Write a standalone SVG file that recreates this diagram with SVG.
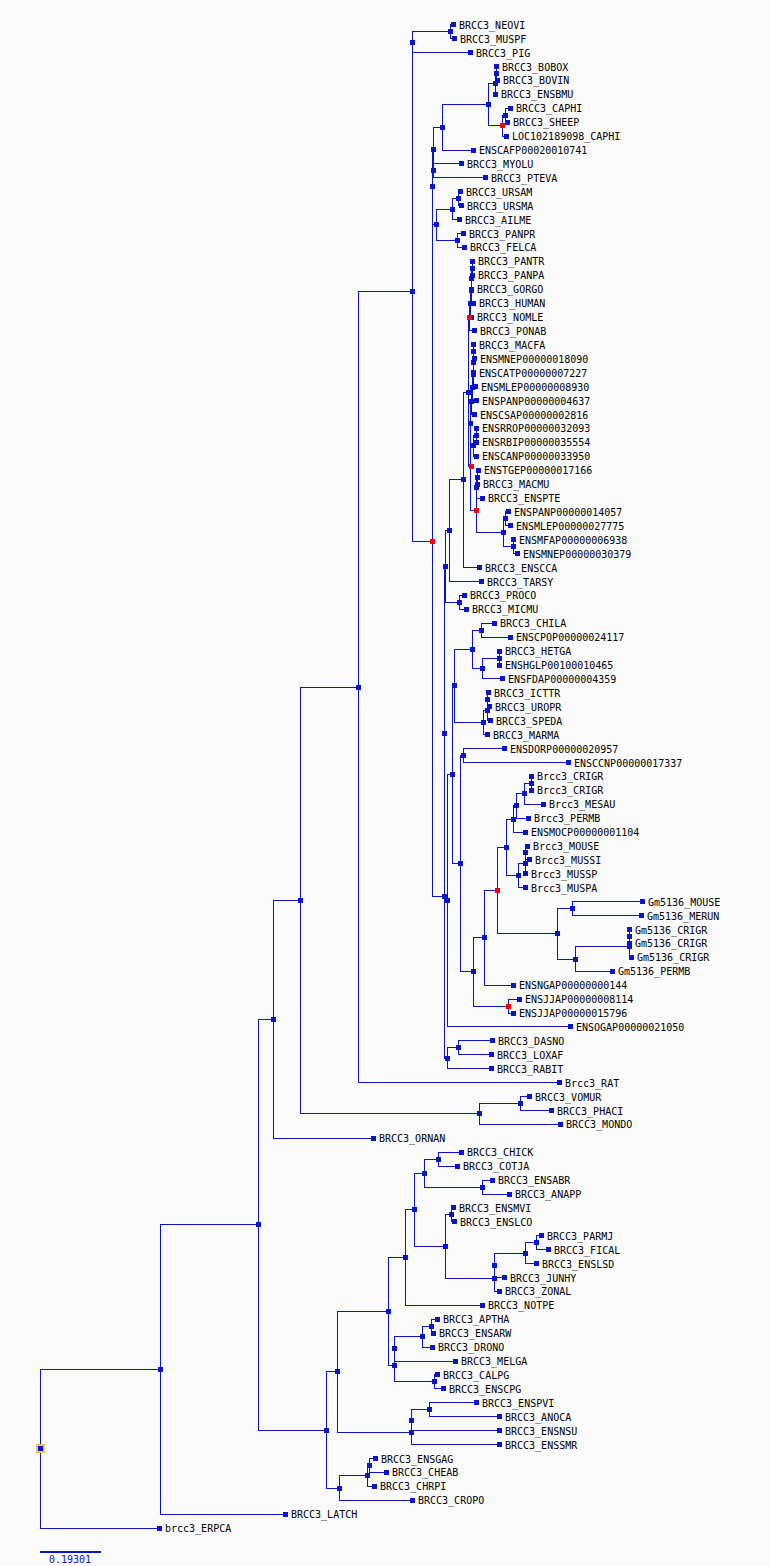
<svg xmlns="http://www.w3.org/2000/svg" xmlns:xlink="http://www.w3.org/1999/xlink" width="770" height="1566" viewBox="0 0 770 1566">
<style>
.bg{fill:#fafafa}
.e path{fill:none;stroke:#0a14c8;stroke-width:1;shape-rendering:crispEdges}
use{fill:#0a14c8;shape-rendering:crispEdges}
use.dup{fill:#ff0000}
text{font-family:"DejaVu Sans Mono","Liberation Mono",monospace;font-size:10px;fill:#000}
text.sc{fill:#0a14c8}
</style>
<defs><rect id="s" x="-2.5" y="-2.5" width="5" height="5"/></defs>
<rect class="bg" x="0" y="0" width="770" height="1566"/>
<g class="e" id="connectors">
<path d="M160 1369.4H40V1528.1H159"/>
<path d="M258 1224.7H160V1514.1H285"/>
<path d="M273 1019.45H258V1430H326"/>
<path d="M300 900.6H273V1138.3H373"/>
<path d="M358 687.2H300V1113.95H479"/>
<path d="M412 291.8H358V1082.6H559"/>
<path d="M412 42.1V541.5H432"/>
<path d="M450 31.65H412V52.5H470"/>
<path d="M453 24.7H450V38.6H454"/>
<path d="M432 186.95V896H444"/>
<path d="M433 149.1H432V224.8H436"/>
<path d="M442 127.4H433V170.85"/>
<path d="M488 104.75H442V150H473"/>
<path d="M495 83.9H488V125.6H502"/>
<path d="M496 73.45H495V94.3"/>
<path d="M496 66.5V80.4H497"/>
<path d="M505 115.15H502V136.1H506"/>
<path d="M510 108.2H505V122.1H507"/>
<path d="M461 163.9H433V177.8H485"/>
<path d="M452 209.15H436V240.45H457"/>
<path d="M458 198.7H452V219.6H459"/>
<path d="M460 191.7H458V205.7H461"/>
<path d="M463 233.5H457V247.4H464"/>
<path d="M444 733.7V1058.3H447"/>
<path d="M445 566.5H444V900.85H447"/>
<path d="M449 530.7H445V602.35H459"/>
<path d="M463 479.85H449V581.5H481"/>
<path d="M468 392.1H463V567.6H479"/>
<path d="M469 317.4H468V466.8H471"/>
<path d="M470 303.95H469V330.9H474"/>
<path d="M471 290.9H470V317H471"/>
<path d="M471 278.75V303.1H473"/>
<path d="M472 268.3H471V289.2"/>
<path d="M472 261.3V275.3"/>
<path d="M470 423.4V510.2H476"/>
<path d="M471 401H470V445.8H473"/>
<path d="M472 387.5H471V414.5H474"/>
<path d="M473 374.45H472V400.5H476"/>
<path d="M473 362.3V386.6H475"/>
<path d="M473 351.85V372.7"/>
<path d="M473 344.9V358.8H474"/>
<path d="M476 435.35H473V456.2H476"/>
<path d="M476 428.4V442.3"/>
<path d="M476 487.55V532.8H503"/>
<path d="M477 477.1H476V498H482"/>
<path d="M478 470.1H477V484.1"/>
<path d="M505 518.85H503V546.7H513"/>
<path d="M508 511.9H505V525.8H510"/>
<path d="M513 539.7V553.7H517"/>
<path d="M464 595.4H459V609.3H466"/>
<path d="M452 774.8H447V1026.9H570"/>
<path d="M454 685.9H452V863.7H460"/>
<path d="M472 649.4H454V722.45H483"/>
<path d="M481 630.25H472V668.5H482"/>
<path d="M494 623.3H481V637.2H510"/>
<path d="M499 658.05H482V678.9H502"/>
<path d="M499 651.1V665"/>
<path d="M487 710.3H483V734.6H487"/>
<path d="M487 699.85V720.7H490"/>
<path d="M488 692.9H487V706.8H489"/>
<path d="M463 755.5H460V971.95H473"/>
<path d="M504 748.5H463V762.5H568"/>
<path d="M484 937.9H473V1006.05H508"/>
<path d="M497 890.6H484V985.2H513"/>
<path d="M506 847.3H497V933.9H557"/>
<path d="M513 819H506V875.55H518"/>
<path d="M516 805.95H513V832.1H525"/>
<path d="M524 793.8H516V818.1H528"/>
<path d="M531 783.35H524V804.2H543"/>
<path d="M531 776.4V790.3"/>
<path d="M525 863.4H518V887.7H525"/>
<path d="M525 852.95V873.8"/>
<path d="M527 846H525V859.9H529"/>
<path d="M572 908.65H557V959.1H575"/>
<path d="M642 901.7H572V915.6H641"/>
<path d="M629 946.9H575V971.3H612"/>
<path d="M629 936.45V957.3H631"/>
<path d="M629 929.5V943.4"/>
<path d="M519 999.1H508V1013H513"/>
<path d="M458 1047.85H447V1068.7H491"/>
<path d="M492 1040.9H458V1054.8H491"/>
<path d="M520 1103.5H479V1124.4H560"/>
<path d="M529 1096.5H520V1110.5H551"/>
<path d="M337 1371.9H326V1488.05H339"/>
<path d="M388 1311.5H337V1432.35H411"/>
<path d="M405 1257.6H388V1365.4H394"/>
<path d="M414 1209.85H405V1305.3H482"/>
<path d="M424 1173.1H414V1246.6H445"/>
<path d="M438 1159.15H424V1187.05H482"/>
<path d="M461 1152.2H438V1166.1H457"/>
<path d="M492 1180.1H482V1194H509"/>
<path d="M451 1214.85H445V1278.35H494"/>
<path d="M453 1207.9H451V1221.8H454"/>
<path d="M494 1265.3V1291.4H499"/>
<path d="M525 1253.15H494V1277.5H504"/>
<path d="M536 1242.7H525V1263.6H536"/>
<path d="M541 1235.7H536V1249.7H548"/>
<path d="M394 1348.85V1381.9H434"/>
<path d="M422 1336.7H394V1361H455"/>
<path d="M431 1326.25H422V1347.1H432"/>
<path d="M437 1319.3H431V1333.2H433"/>
<path d="M437 1374.9H434V1388.9H443"/>
<path d="M411 1420.2V1444.5H499"/>
<path d="M429 1409.75H411V1430.6H499"/>
<path d="M476 1402.8H429V1416.7H499"/>
<path d="M367 1475.9H339V1500.2H412"/>
<path d="M369 1465.45H367V1486.3H374"/>
<path d="M375 1458.5H369V1472.4H386"/>
</g>
<g id="leaves">
<g id="leaf-001"><use href="#s" x="453" y="24.7"/><text x="459" y="28.7">BRCC3_NEOVI</text></g>
<g id="leaf-002"><use href="#s" x="454" y="38.6"/><text x="460" y="42.6">BRCC3_MUSPF</text></g>
<g id="leaf-003"><use href="#s" x="470" y="52.5"/><text x="476" y="56.5">BRCC3_PIG</text></g>
<g id="leaf-004"><use href="#s" x="496" y="66.5"/><text x="502" y="70.5">BRCC3_BOBOX</text></g>
<g id="leaf-005"><use href="#s" x="497" y="80.4"/><text x="503" y="84.4">BRCC3_BOVIN</text></g>
<g id="leaf-006"><use href="#s" x="495" y="94.3"/><text x="501" y="98.3">BRCC3_ENSBMU</text></g>
<g id="leaf-007"><use href="#s" x="510" y="108.2"/><text x="516" y="112.2">BRCC3_CAPHI</text></g>
<g id="leaf-008"><use href="#s" x="507" y="122.1"/><text x="513" y="126.1">BRCC3_SHEEP</text></g>
<g id="leaf-009"><use href="#s" x="506" y="136.1"/><text x="512" y="140.1">LOC102189098_CAPHI</text></g>
<g id="leaf-010"><use href="#s" x="473" y="150"/><text x="479" y="154">ENSCAFP00020010741</text></g>
<g id="leaf-011"><use href="#s" x="461" y="163.9"/><text x="467" y="167.9">BRCC3_MYOLU</text></g>
<g id="leaf-012"><use href="#s" x="485" y="177.8"/><text x="491" y="181.8">BRCC3_PTEVA</text></g>
<g id="leaf-013"><use href="#s" x="460" y="191.7"/><text x="466" y="195.7">BRCC3_URSAM</text></g>
<g id="leaf-014"><use href="#s" x="461" y="205.7"/><text x="467" y="209.7">BRCC3_URSMA</text></g>
<g id="leaf-015"><use href="#s" x="459" y="219.6"/><text x="465" y="223.6">BRCC3_AILME</text></g>
<g id="leaf-016"><use href="#s" x="463" y="233.5"/><text x="469" y="237.5">BRCC3_PANPR</text></g>
<g id="leaf-017"><use href="#s" x="464" y="247.4"/><text x="470" y="251.4">BRCC3_FELCA</text></g>
<g id="leaf-018"><use href="#s" x="472" y="261.3"/><text x="478" y="265.3">BRCC3_PANTR</text></g>
<g id="leaf-019"><use href="#s" x="472" y="275.3"/><text x="478" y="279.3">BRCC3_PANPA</text></g>
<g id="leaf-020"><use href="#s" x="471" y="289.2"/><text x="477" y="293.2">BRCC3_GORGO</text></g>
<g id="leaf-021"><use href="#s" x="473" y="303.1"/><text x="479" y="307.1">BRCC3_HUMAN</text></g>
<g id="leaf-022"><use href="#s" x="471" y="317"/><text x="477" y="321">BRCC3_NOMLE</text></g>
<g id="leaf-023"><use href="#s" x="474" y="330.9"/><text x="480" y="334.9">BRCC3_PONAB</text></g>
<g id="leaf-024"><use href="#s" x="473" y="344.9"/><text x="479" y="348.9">BRCC3_MACFA</text></g>
<g id="leaf-025"><use href="#s" x="474" y="358.8"/><text x="480" y="362.8">ENSMNEP00000018090</text></g>
<g id="leaf-026"><use href="#s" x="473" y="372.7"/><text x="479" y="376.7">ENSCATP00000007227</text></g>
<g id="leaf-027"><use href="#s" x="475" y="386.6"/><text x="481" y="390.6">ENSMLEP00000008930</text></g>
<g id="leaf-028"><use href="#s" x="476" y="400.5"/><text x="482" y="404.5">ENSPANP00000004637</text></g>
<g id="leaf-029"><use href="#s" x="474" y="414.5"/><text x="480" y="418.5">ENSCSAP00000002816</text></g>
<g id="leaf-030"><use href="#s" x="476" y="428.4"/><text x="482" y="432.4">ENSRROP00000032093</text></g>
<g id="leaf-031"><use href="#s" x="476" y="442.3"/><text x="482" y="446.3">ENSRBIP00000035554</text></g>
<g id="leaf-032"><use href="#s" x="476" y="456.2"/><text x="482" y="460.2">ENSCANP00000033950</text></g>
<g id="leaf-033"><use href="#s" x="478" y="470.1"/><text x="484" y="474.1">ENSTGEP00000017166</text></g>
<g id="leaf-034"><use href="#s" x="477" y="484.1"/><text x="483" y="488.1">BRCC3_MACMU</text></g>
<g id="leaf-035"><use href="#s" x="482" y="498"/><text x="488" y="502">BRCC3_ENSPTE</text></g>
<g id="leaf-036"><use href="#s" x="508" y="511.9"/><text x="514" y="515.9">ENSPANP00000014057</text></g>
<g id="leaf-037"><use href="#s" x="510" y="525.8"/><text x="516" y="529.8">ENSMLEP00000027775</text></g>
<g id="leaf-038"><use href="#s" x="513" y="539.7"/><text x="519" y="543.7">ENSMFAP00000006938</text></g>
<g id="leaf-039"><use href="#s" x="517" y="553.7"/><text x="523" y="557.7">ENSMNEP00000030379</text></g>
<g id="leaf-040"><use href="#s" x="479" y="567.6"/><text x="485" y="571.6">BRCC3_ENSCCA</text></g>
<g id="leaf-041"><use href="#s" x="481" y="581.5"/><text x="487" y="585.5">BRCC3_TARSY</text></g>
<g id="leaf-042"><use href="#s" x="464" y="595.4"/><text x="470" y="599.4">BRCC3_PROCO</text></g>
<g id="leaf-043"><use href="#s" x="466" y="609.3"/><text x="472" y="613.3">BRCC3_MICMU</text></g>
<g id="leaf-044"><use href="#s" x="494" y="623.3"/><text x="500" y="627.3">BRCC3_CHILA</text></g>
<g id="leaf-045"><use href="#s" x="510" y="637.2"/><text x="516" y="641.2">ENSCPOP00000024117</text></g>
<g id="leaf-046"><use href="#s" x="499" y="651.1"/><text x="505" y="655.1">BRCC3_HETGA</text></g>
<g id="leaf-047"><use href="#s" x="499" y="665"/><text x="505" y="669">ENSHGLP00100010465</text></g>
<g id="leaf-048"><use href="#s" x="502" y="678.9"/><text x="508" y="682.9">ENSFDAP00000004359</text></g>
<g id="leaf-049"><use href="#s" x="488" y="692.9"/><text x="494" y="696.9">BRCC3_ICTTR</text></g>
<g id="leaf-050"><use href="#s" x="489" y="706.8"/><text x="495" y="710.8">BRCC3_UROPR</text></g>
<g id="leaf-051"><use href="#s" x="490" y="720.7"/><text x="496" y="724.7">BRCC3_SPEDA</text></g>
<g id="leaf-052"><use href="#s" x="487" y="734.6"/><text x="493" y="738.6">BRCC3_MARMA</text></g>
<g id="leaf-053"><use href="#s" x="504" y="748.5"/><text x="510" y="752.5">ENSDORP00000020957</text></g>
<g id="leaf-054"><use href="#s" x="568" y="762.5"/><text x="574" y="766.5">ENSCCNP00000017337</text></g>
<g id="leaf-055"><use href="#s" x="531" y="776.4"/><text x="537" y="780.4">Brcc3_CRIGR</text></g>
<g id="leaf-056"><use href="#s" x="531" y="790.3"/><text x="537" y="794.3">Brcc3_CRIGR</text></g>
<g id="leaf-057"><use href="#s" x="543" y="804.2"/><text x="549" y="808.2">Brcc3_MESAU</text></g>
<g id="leaf-058"><use href="#s" x="528" y="818.1"/><text x="534" y="822.1">Brcc3_PERMB</text></g>
<g id="leaf-059"><use href="#s" x="525" y="832.1"/><text x="531" y="836.1">ENSMOCP00000001104</text></g>
<g id="leaf-060"><use href="#s" x="527" y="846"/><text x="533" y="850">Brcc3_MOUSE</text></g>
<g id="leaf-061"><use href="#s" x="529" y="859.9"/><text x="535" y="863.9">Brcc3_MUSSI</text></g>
<g id="leaf-062"><use href="#s" x="525" y="873.8"/><text x="531" y="877.8">Brcc3_MUSSP</text></g>
<g id="leaf-063"><use href="#s" x="525" y="887.7"/><text x="531" y="891.7">Brcc3_MUSPA</text></g>
<g id="leaf-064"><use href="#s" x="642" y="901.7"/><text x="648" y="905.7">Gm5136_MOUSE</text></g>
<g id="leaf-065"><use href="#s" x="641" y="915.6"/><text x="647" y="919.6">Gm5136_MERUN</text></g>
<g id="leaf-066"><use href="#s" x="629" y="929.5"/><text x="635" y="933.5">Gm5136_CRIGR</text></g>
<g id="leaf-067"><use href="#s" x="629" y="943.4"/><text x="635" y="947.4">Gm5136_CRIGR</text></g>
<g id="leaf-068"><use href="#s" x="631" y="957.3"/><text x="637" y="961.3">Gm5136_CRIGR</text></g>
<g id="leaf-069"><use href="#s" x="612" y="971.3"/><text x="618" y="975.3">Gm5136_PERMB</text></g>
<g id="leaf-070"><use href="#s" x="513" y="985.2"/><text x="519" y="989.2">ENSNGAP00000000144</text></g>
<g id="leaf-071"><use href="#s" x="519" y="999.1"/><text x="525" y="1003.1">ENSJJAP00000008114</text></g>
<g id="leaf-072"><use href="#s" x="513" y="1013"/><text x="519" y="1017">ENSJJAP00000015796</text></g>
<g id="leaf-073"><use href="#s" x="570" y="1026.9"/><text x="576" y="1030.9">ENSOGAP00000021050</text></g>
<g id="leaf-074"><use href="#s" x="492" y="1040.9"/><text x="498" y="1044.9">BRCC3_DASNO</text></g>
<g id="leaf-075"><use href="#s" x="491" y="1054.8"/><text x="497" y="1058.8">BRCC3_LOXAF</text></g>
<g id="leaf-076"><use href="#s" x="491" y="1068.7"/><text x="497" y="1072.7">BRCC3_RABIT</text></g>
<g id="leaf-077"><use href="#s" x="559" y="1082.6"/><text x="565" y="1086.6">Brcc3_RAT</text></g>
<g id="leaf-078"><use href="#s" x="529" y="1096.5"/><text x="535" y="1100.5">BRCC3_VOMUR</text></g>
<g id="leaf-079"><use href="#s" x="551" y="1110.5"/><text x="557" y="1114.5">BRCC3_PHACI</text></g>
<g id="leaf-080"><use href="#s" x="560" y="1124.4"/><text x="566" y="1128.4">BRCC3_MONDO</text></g>
<g id="leaf-081"><use href="#s" x="373" y="1138.3"/><text x="379" y="1142.3">BRCC3_ORNAN</text></g>
<g id="leaf-082"><use href="#s" x="461" y="1152.2"/><text x="467" y="1156.2">BRCC3_CHICK</text></g>
<g id="leaf-083"><use href="#s" x="457" y="1166.1"/><text x="463" y="1170.1">BRCC3_COTJA</text></g>
<g id="leaf-084"><use href="#s" x="492" y="1180.1"/><text x="498" y="1184.1">BRCC3_ENSABR</text></g>
<g id="leaf-085"><use href="#s" x="509" y="1194"/><text x="515" y="1198">BRCC3_ANAPP</text></g>
<g id="leaf-086"><use href="#s" x="453" y="1207.9"/><text x="459" y="1211.9">BRCC3_ENSMVI</text></g>
<g id="leaf-087"><use href="#s" x="454" y="1221.8"/><text x="460" y="1225.8">BRCC3_ENSLCO</text></g>
<g id="leaf-088"><use href="#s" x="541" y="1235.7"/><text x="547" y="1239.7">BRCC3_PARMJ</text></g>
<g id="leaf-089"><use href="#s" x="548" y="1249.7"/><text x="554" y="1253.7">BRCC3_FICAL</text></g>
<g id="leaf-090"><use href="#s" x="536" y="1263.6"/><text x="542" y="1267.6">BRCC3_ENSLSD</text></g>
<g id="leaf-091"><use href="#s" x="504" y="1277.5"/><text x="510" y="1281.5">BRCC3_JUNHY</text></g>
<g id="leaf-092"><use href="#s" x="499" y="1291.4"/><text x="505" y="1295.4">BRCC3_ZONAL</text></g>
<g id="leaf-093"><use href="#s" x="482" y="1305.3"/><text x="488" y="1309.3">BRCC3_NOTPE</text></g>
<g id="leaf-094"><use href="#s" x="437" y="1319.3"/><text x="443" y="1323.3">BRCC3_APTHA</text></g>
<g id="leaf-095"><use href="#s" x="433" y="1333.2"/><text x="439" y="1337.2">BRCC3_ENSARW</text></g>
<g id="leaf-096"><use href="#s" x="432" y="1347.1"/><text x="438" y="1351.1">BRCC3_DRONO</text></g>
<g id="leaf-097"><use href="#s" x="455" y="1361"/><text x="461" y="1365">BRCC3_MELGA</text></g>
<g id="leaf-098"><use href="#s" x="437" y="1374.9"/><text x="443" y="1378.9">BRCC3_CALPG</text></g>
<g id="leaf-099"><use href="#s" x="443" y="1388.9"/><text x="449" y="1392.9">BRCC3_ENSCPG</text></g>
<g id="leaf-100"><use href="#s" x="476" y="1402.8"/><text x="482" y="1406.8">BRCC3_ENSPVI</text></g>
<g id="leaf-101"><use href="#s" x="499" y="1416.7"/><text x="505" y="1420.7">BRCC3_ANOCA</text></g>
<g id="leaf-102"><use href="#s" x="499" y="1430.6"/><text x="505" y="1434.6">BRCC3_ENSNSU</text></g>
<g id="leaf-103"><use href="#s" x="499" y="1444.5"/><text x="505" y="1448.5">BRCC3_ENSSMR</text></g>
<g id="leaf-104"><use href="#s" x="375" y="1458.5"/><text x="381" y="1462.5">BRCC3_ENSGAG</text></g>
<g id="leaf-105"><use href="#s" x="386" y="1472.4"/><text x="392" y="1476.4">BRCC3_CHEAB</text></g>
<g id="leaf-106"><use href="#s" x="374" y="1486.3"/><text x="380" y="1490.3">BRCC3_CHRPI</text></g>
<g id="leaf-107"><use href="#s" x="412" y="1500.2"/><text x="418" y="1504.2">BRCC3_CROPO</text></g>
<g id="leaf-108"><use href="#s" x="285" y="1514.1"/><text x="291" y="1518.1">BRCC3_LATCH</text></g>
<g id="leaf-109"><use href="#s" x="159" y="1528.1"/><text x="165" y="1532.1">brcc3_ERPCA</text></g>
</g>
<g id="internal-nodes">
<g id="node-root"><rect x="35.5" y="1444.25" width="9" height="9" fill="#ebc855" shape-rendering="crispEdges"/><use href="#s" x="40" y="1448.75"/></g>
<g id="node-A"><use href="#s" x="160" y="1369.4"/></g>
<g id="node-B"><use href="#s" x="258" y="1224.7"/></g>
<g id="node-C"><use href="#s" x="273" y="1019.45"/></g>
<g id="node-D"><use href="#s" x="300" y="900.6"/></g>
<g id="node-E"><use href="#s" x="358" y="687.2"/></g>
<g id="node-F"><use href="#s" x="412" y="291.8"/></g>
<g id="node-G"><use href="#s" x="412" y="42.1"/></g>
<g id="node-mus"><use href="#s" x="450" y="31.65"/></g>
<g id="node-n3"><use href="#s" x="432" y="186.95"/></g>
<g id="node-n1"><use href="#s" x="433" y="149.1"/></g>
<g id="node-cet"><use href="#s" x="442" y="127.4"/></g>
<g id="node-bovidae"><use href="#s" x="488" y="104.75"/></g>
<g id="node-bov2"><use href="#s" x="495" y="83.9"/></g>
<g id="node-bov1"><use href="#s" x="496" y="73.45"/></g>
<g id="node-cap1"><use href="#s" x="505" y="115.15"/></g>
<g id="node-bats"><use href="#s" x="433" y="170.85"/></g>
<g id="node-carn"><use href="#s" x="436" y="224.8"/></g>
<g id="node-urs2"><use href="#s" x="452" y="209.15"/></g>
<g id="node-urs"><use href="#s" x="458" y="198.7"/></g>
<g id="node-fel"><use href="#s" x="457" y="240.45"/></g>
<g id="node-I"><use href="#s" x="444" y="896"/></g>
<g id="node-J"><use href="#s" x="444" y="733.7"/></g>
<g id="node-P"><use href="#s" x="445" y="566.5"/></g>
<g id="node-hapl"><use href="#s" x="449" y="530.7"/></g>
<g id="node-sim"><use href="#s" x="463" y="479.85"/></g>
<g id="node-cat"><use href="#s" x="468" y="392.1"/></g>
<g id="node-hp4"><use href="#s" x="470" y="303.95"/></g>
<g id="node-hp3"><use href="#s" x="471" y="290.9"/></g>
<g id="node-hp2"><use href="#s" x="471" y="278.75"/></g>
<g id="node-hp1"><use href="#s" x="472" y="268.3"/></g>
<g id="node-owm"><use href="#s" x="470" y="423.4"/></g>
<g id="node-o5"><use href="#s" x="471" y="401"/></g>
<g id="node-o4"><use href="#s" x="472" y="387.5"/></g>
<g id="node-o3"><use href="#s" x="473" y="374.45"/></g>
<g id="node-o2"><use href="#s" x="473" y="362.3"/></g>
<g id="node-o1"><use href="#s" x="473" y="351.85"/></g>
<g id="node-r2"><use href="#s" x="473" y="445.8"/></g>
<g id="node-r1"><use href="#s" x="476" y="435.35"/></g>
<g id="node-t2"><use href="#s" x="476" y="487.55"/></g>
<g id="node-t1"><use href="#s" x="477" y="477.1"/></g>
<g id="node-p3"><use href="#s" x="503" y="532.8"/></g>
<g id="node-p1"><use href="#s" x="505" y="518.85"/></g>
<g id="node-p2"><use href="#s" x="513" y="546.7"/></g>
<g id="node-strep"><use href="#s" x="459" y="602.35"/></g>
<g id="node-Q"><use href="#s" x="447" y="900.85"/></g>
<g id="node-R"><use href="#s" x="452" y="774.8"/></g>
<g id="node-S"><use href="#s" x="454" y="685.9"/></g>
<g id="node-hys"><use href="#s" x="472" y="649.4"/></g>
<g id="node-cav1"><use href="#s" x="481" y="630.25"/></g>
<g id="node-het2"><use href="#s" x="482" y="668.5"/></g>
<g id="node-het1"><use href="#s" x="499" y="658.05"/></g>
<g id="node-sc3"><use href="#s" x="483" y="722.45"/></g>
<g id="node-sc2"><use href="#s" x="487" y="710.3"/></g>
<g id="node-sc1"><use href="#s" x="487" y="699.85"/></g>
<g id="node-T"><use href="#s" x="460" y="863.7"/></g>
<g id="node-dor"><use href="#s" x="463" y="755.5"/></g>
<g id="node-U"><use href="#s" x="473" y="971.95"/></g>
<g id="node-V"><use href="#s" x="484" y="937.9"/></g>
<g id="node-X"><use href="#s" x="506" y="847.3"/></g>
<g id="node-cr4"><use href="#s" x="513" y="819"/></g>
<g id="node-cr3"><use href="#s" x="516" y="805.95"/></g>
<g id="node-cr2"><use href="#s" x="524" y="793.8"/></g>
<g id="node-cr1"><use href="#s" x="531" y="783.35"/></g>
<g id="node-m3"><use href="#s" x="518" y="875.55"/></g>
<g id="node-m2"><use href="#s" x="525" y="863.4"/></g>
<g id="node-m1"><use href="#s" x="525" y="852.95"/></g>
<g id="node-Y"><use href="#s" x="557" y="933.9"/></g>
<g id="node-gm1"><use href="#s" x="572" y="908.65"/></g>
<g id="node-Z"><use href="#s" x="575" y="959.1"/></g>
<g id="node-gc2"><use href="#s" x="629" y="946.9"/></g>
<g id="node-gc1"><use href="#s" x="629" y="936.45"/></g>
<g id="node-K"><use href="#s" x="447" y="1058.3"/></g>
<g id="node-dl"><use href="#s" x="458" y="1047.85"/></g>
<g id="node-mars"><use href="#s" x="479" y="1113.95"/></g>
<g id="node-vp"><use href="#s" x="520" y="1103.5"/></g>
<g id="node-rep"><use href="#s" x="326" y="1430"/></g>
<g id="node-sau"><use href="#s" x="337" y="1371.9"/></g>
<g id="node-bird"><use href="#s" x="388" y="1311.5"/></g>
<g id="node-neo"><use href="#s" x="405" y="1257.6"/></g>
<g id="node-nb"><use href="#s" x="414" y="1209.85"/></g>
<g id="node-gal"><use href="#s" x="424" y="1173.1"/></g>
<g id="node-ch"><use href="#s" x="438" y="1159.15"/></g>
<g id="node-ab"><use href="#s" x="482" y="1187.05"/></g>
<g id="node-pas"><use href="#s" x="445" y="1246.6"/></g>
<g id="node-mv"><use href="#s" x="451" y="1214.85"/></g>
<g id="node-pz"><use href="#s" x="494" y="1278.35"/></g>
<g id="node-pj"><use href="#s" x="494" y="1265.3"/></g>
<g id="node-pfe"><use href="#s" x="525" y="1253.15"/></g>
<g id="node-pf"><use href="#s" x="536" y="1242.7"/></g>
<g id="node-pal2"><use href="#s" x="394" y="1365.4"/></g>
<g id="node-pal"><use href="#s" x="394" y="1348.85"/></g>
<g id="node-aad"><use href="#s" x="422" y="1336.7"/></g>
<g id="node-aa"><use href="#s" x="431" y="1326.25"/></g>
<g id="node-cc"><use href="#s" x="434" y="1381.9"/></g>
<g id="node-sq3"><use href="#s" x="411" y="1432.35"/></g>
<g id="node-sq2"><use href="#s" x="411" y="1420.2"/></g>
<g id="node-sq1"><use href="#s" x="429" y="1409.75"/></g>
<g id="node-tur"><use href="#s" x="339" y="1488.05"/></g>
<g id="node-gcc"><use href="#s" x="367" y="1475.9"/></g>
<g id="node-gc"><use href="#s" x="369" y="1465.45"/></g>
<g id="node-capR"><use class="dup" href="#s" x="502" y="125.6"/></g>
<g id="node-red1"><use class="dup" href="#s" x="469" y="317.4"/></g>
<g id="node-red2"><use class="dup" href="#s" x="471" y="466.8"/></g>
<g id="node-red3"><use class="dup" href="#s" x="476" y="510.2"/></g>
<g id="node-H"><use class="dup" href="#s" x="432" y="541.5"/></g>
<g id="node-W"><use class="dup" href="#s" x="497" y="890.6"/></g>
<g id="node-jj"><use class="dup" href="#s" x="508" y="1006.05"/></g>
</g>
<g id="scale-bar">
<rect x="40" y="1550.5" width="61" height="2" fill="#0a14c8" shape-rendering="crispEdges"/>
<text class="sc" x="49" y="1563">0.19301</text>
</g>
</svg>
